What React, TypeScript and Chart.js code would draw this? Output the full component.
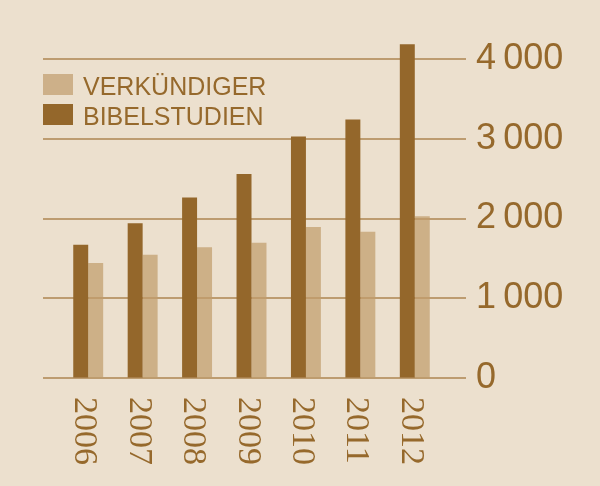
import { useEffect, useRef } from "react";
import { Chart, registerables } from "chart.js";

Chart.register(...registerables);

const years = ["2006", "2007", "2008", "2009", "2010", "2011", "2012"];
const bibelstudien = [1670, 1940, 2265, 2560, 3030, 3245, 4190];
const verkuendiger = [1440, 1545, 1640, 1695, 1895, 1835, 2030];
const yTicks = [0, 1000, 2000, 3000, 4000];

const BG = "#ece0ce";
const DARK = "#94672b";
const LIGHT = "rgba(192,156,108,0.72)";
const LIGHT_SOLID = "#cdb089";
const GRID = "#bd9c70";
const TEXT = "#96692c";

// gridlines run wider than the plot area, legend and rotated year labels are drawn by hand
const decorPlugin = {
  id: "decor",
  beforeDatasetsDraw(chart: Chart) {
    const { ctx } = chart;
    const y = chart.scales.y;
    ctx.save();
    ctx.strokeStyle = GRID;
    ctx.lineWidth = 2;
    yTicks.forEach((v) => {
      const py = Math.round(y.getPixelForValue(v));
      ctx.beginPath();
      ctx.moveTo(43, py);
      ctx.lineTo(466, py);
      ctx.stroke();
    });
    ctx.restore();
  },
  afterDraw(chart: Chart) {
    const { ctx } = chart;
    const x = chart.scales.x;

    // legend
    ctx.save();
    ctx.font = "25px 'Liberation Sans', Arial, sans-serif";
    ctx.textBaseline = "alphabetic";
    ctx.textAlign = "left";
    ctx.fillStyle = LIGHT_SOLID;
    ctx.fillRect(43, 74, 30, 21);
    ctx.fillStyle = DARK;
    ctx.fillRect(43, 104, 30, 21);
    ctx.fillStyle = TEXT;
    ctx.fillText(chart.data.datasets[1].label as string, 83, 95);
    ctx.fillText(chart.data.datasets[0].label as string, 83, 125);
    ctx.restore();

    // year labels, rotated clockwise
    ctx.save();
    ctx.font = "34px 'Liberation Serif', 'Times New Roman', serif";
    ctx.fillStyle = TEXT;
    ctx.textAlign = "left";
    ctx.textBaseline = "alphabetic";
    years.forEach((lab, i) => {
      const cx = x.getPixelForValue(i);
      ctx.save();
      ctx.translate(cx - 13, 397);
      ctx.rotate(Math.PI / 2);
      ctx.fillText(lab, 0, 0);
      ctx.restore();
    });
    ctx.restore();
  },
};

export default function App() {
  const canvasRef = useRef<HTMLCanvasElement>(null);

  useEffect(() => {
    const ctx = canvasRef.current!.getContext("2d")!;

    const chart = new Chart(ctx, {
      type: "bar",
      data: {
        labels: years,
        datasets: [
          {
            label: "BIBELSTUDIEN",
            data: bibelstudien,
            backgroundColor: DARK,
            barPercentage: 1,
            categoryPercentage: 0.55,
          },
          {
            label: "VERKÜNDIGER",
            data: verkuendiger,
            backgroundColor: LIGHT,
            barPercentage: 1,
            categoryPercentage: 0.55,
          },
        ],
      },
      options: {
        responsive: false,
        animation: false,
        layout: {
          padding: { left: 61, top: 39.5, bottom: 108.3, right: 0 },
        },
        plugins: {
          legend: { display: false },
          tooltip: { enabled: false },
        },
        scales: {
          x: {
            display: false,
          },
          y: {
            position: "right",
            min: 0,
            max: 4250,
            border: { display: false },
            grid: { display: false, drawTicks: false },
            afterBuildTicks: (scale: any) => {
              scale.ticks = yTicks.map((v) => ({ value: v }));
            },
            afterFit: (scale: any) => {
              scale.width = 158;
              scale.paddingTop = 0;
              scale.paddingBottom = 0;
            },
            ticks: {
              padding: 34,
              color: TEXT,
              font: { family: "'Liberation Sans', Arial, sans-serif", size: 36 },
              callback: (v: any) =>
                Number(v) === 0 ? "0" : String(v).replace(/\B(?=(\d{3})+(?!\d))/g, "\u2009"),
            },
          },
        },
      },
      plugins: [decorPlugin],
    });

    return () => {
      chart.destroy();
    };
  }, []);

  return (
    <div
      style={{
        position: "absolute",
        left: 0,
        top: 0,
        width: 600,
        height: 486,
        background: BG,
      }}
    >
      <canvas ref={canvasRef} width={600} height={486} />
    </div>
  );
}
